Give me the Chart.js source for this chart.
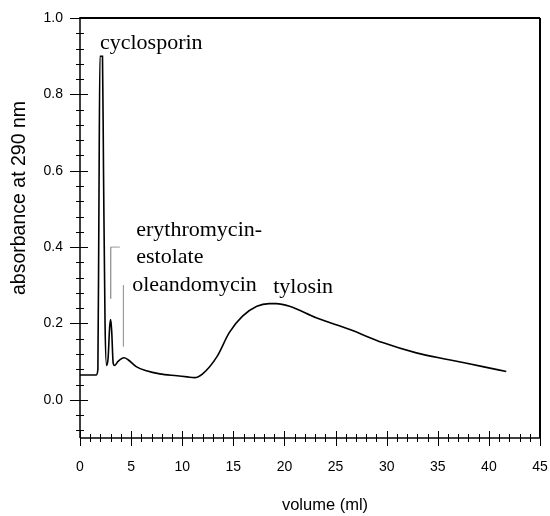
<!DOCTYPE html>
<html>
<head>
<meta charset="utf-8">
<script src="https://cdn.jsdelivr.net/npm/chart.js@4/dist/chart.umd.min.js"></script>
<style>
  html, body { margin: 0; padding: 0; background: #fff; }
  #wrap { width: 550px; height: 516px; position: relative; }
</style>
</head>
<body>
<div id="wrap"><canvas id="c" width="550" height="516"></canvas></div>
<script>
// ---- data ----
const volume = [0, 1.6, 1.75, 1.85, 1.95, 2.2, 2.3, 2.45, 2.6, 2.75, 2.9, 3.0, 3.1, 3.25, 3.4, 3.7, 4.3, 4.7, 5.5, 6.5, 7.8, 9.5, 10.5, 11.2, 12, 13.4, 14.6, 15.9, 17.3, 18.5, 19.2, 20.5, 23.1, 26.4, 29.6, 32.9, 36.1, 39.4, 41.7];
const absorbance = [0.065, 0.065, 0.08, 0.5, 0.90, 0.90, 0.6, 0.2, 0.09, 0.11, 0.19, 0.21, 0.18, 0.095, 0.09, 0.1, 0.11, 0.105, 0.087, 0.076, 0.068, 0.063, 0.06, 0.058, 0.068, 0.113, 0.176, 0.219, 0.245, 0.252, 0.252, 0.245, 0.215, 0.184, 0.15, 0.123, 0.105, 0.087, 0.074];
const marker1X = [3.9, 3.0, 3.0];
const marker1Y = [0.40, 0.40, 0.265];
const marker2X = [4.25, 4.25];
const marker2Y = [0.30, 0.14];
const xTicks = [0, 5, 10, 15, 20, 25, 30, 35, 40, 45];
const yTicks = [0.0, 0.2, 0.4, 0.6, 0.8, 1.0];
const labels = ["cyclosporin", "erythromycin-", "estolate", "oleandomycin", "tylosin"];
const labelX = [1.95, 5.5, 5.5, 5.1, 18.9];
const labelY = [0.92, 0.43, 0.359, 0.285, 0.279];
const xTitle = "volume (ml)";
const yTitle = "absorbance at 290 nm";

const toXY = (xs, ys) => xs.map((x, i) => ({ x: x, y: ys[i] }));

const framePlugin = {
  id: 'frame',
  afterDatasetsDraw(chart) {
    const ctx = chart.ctx;
    const xs = chart.scales.x, ys = chart.scales.y;
    const a = chart.chartArea;
    ctx.save();
    ctx.strokeStyle = '#000';
    // frame
    ctx.lineWidth = 2;
    ctx.beginPath();
    ctx.moveTo(a.left, a.top); ctx.lineTo(a.right, a.top);
    ctx.moveTo(a.right, a.top); ctx.lineTo(a.right, a.bottom);
    ctx.stroke();
    ctx.lineWidth = 1.5;
    ctx.beginPath();
    ctx.moveTo(a.left, a.top - 1); ctx.lineTo(a.left, a.bottom);
    ctx.moveTo(a.left, a.bottom); ctx.lineTo(a.right, a.bottom);
    ctx.stroke();
    // x ticks
    ctx.lineWidth = 1;
    ctx.beginPath();
    for (let v = 0; v <= 45; v++) {
      const px = Math.round(xs.getPixelForValue(v)) + 0.5;
      const major = v % 5 === 0;
      ctx.moveTo(px, a.bottom - (major ? 7 : 4));
      ctx.lineTo(px, a.bottom + (major ? 8 : 4));
    }
    // y ticks
    for (let k = -2; k <= 25; k++) {
      const v = k * 0.04;
      const py = Math.round(ys.getPixelForValue(v)) + 0.5;
      const major = k % 5 === 0;
      ctx.moveTo(a.left - (major ? 10 : 4), py);
      ctx.lineTo(a.left + (major ? 8 : 4), py);
    }
    ctx.stroke();
    // annotations
    ctx.fillStyle = '#000';
    ctx.font = '22px "Liberation Serif", "Times New Roman", serif';
    ctx.textAlign = 'left';
    ctx.textBaseline = 'alphabetic';
    labels.forEach((t, i) => {
      ctx.fillText(t, xs.getPixelForValue(labelX[i]), ys.getPixelForValue(labelY[i]));
    });
    // titles
    ctx.font = '16.5px "Liberation Sans", Arial, sans-serif';
    ctx.textAlign = 'center';
    ctx.textBaseline = 'middle';
    ctx.fillText(xTitle, 325, 505);
    ctx.font = '19.5px "Liberation Sans", Arial, sans-serif';
    ctx.translate(20, 198);
    ctx.rotate(-Math.PI / 2);
    ctx.fillText(yTitle, 0, 0);
    ctx.restore();
  }
};

new Chart(document.getElementById('c'), {
  type: 'line',
  data: {
    datasets: [
      {
        data: toXY(volume, absorbance),
        borderColor: '#000',
        borderWidth: 1.6,
        pointRadius: 0,
        tension: 0,
        cubicInterpolationMode: 'monotone',
        fill: false
      },
      {
        data: toXY(marker1X, marker1Y),
        borderColor: '#9a9a9a',
        borderWidth: 1,
        pointRadius: 0,
        tension: 0,
        fill: false
      },
      {
        data: toXY(marker2X, marker2Y),
        borderColor: '#9a9a9a',
        borderWidth: 1,
        pointRadius: 0,
        tension: 0,
        fill: false
      }
    ]
  },
  options: {
    responsive: false,
    animation: false,
    layout: { padding: { top: 18, right: 10, left: 0, bottom: 0 } },
    plugins: { legend: { display: false }, tooltip: { enabled: false } },
    scales: {
      x: {
        type: 'linear',
        min: 0, max: 45,
        afterBuildTicks(s) { s.ticks = xTicks.map(v => ({ value: v })); },
        afterFit(s) { s.height = 78; s.paddingLeft = 0; s.paddingRight = 0; },
        grid: { display: false, drawTicks: false },
        border: { display: false },
        ticks: {
          color: '#000',
          padding: 21,
          maxRotation: 0,
          font: { family: '"Liberation Sans", Arial, sans-serif', size: 14 },
          callback: v => String(v)
        }
      },
      y: {
        type: 'linear',
        min: -0.1, max: 1.0,
        afterBuildTicks(s) { s.ticks = yTicks.map(v => ({ value: v })); },
        afterFit(s) { s.width = 80; s.paddingTop = 0; s.paddingBottom = 0; },
        grid: { display: false, drawTicks: false },
        border: { display: false },
        ticks: {
          color: '#000',
          padding: 17,
          font: { family: '"Liberation Sans", Arial, sans-serif', size: 14 },
          callback: v => Number(v).toFixed(1)
        }
      }
    }
  },
  plugins: [framePlugin]
});
</script>
</body>
</html>
